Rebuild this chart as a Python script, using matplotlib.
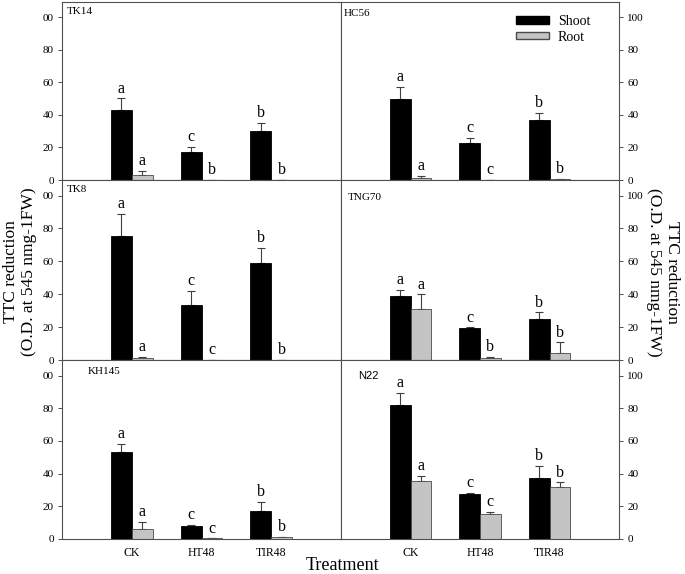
import matplotlib
matplotlib.use("Agg")
import matplotlib.pyplot as plt
from matplotlib.patches import Patch
import numpy as np

# ---------------- data ----------------
categories = ["CK", "HT48", "TIR48"]
panel_names = ["TK14", "HC56", "TK8", "TNG70", "KH145", "N22"]

shoot_TK14 = [43.3, 17.3, 30.2]; shoot_err_TK14 = [6.9, 3.3, 5.1]
root_TK14 = [3.0, 0.0, 0.0];     root_err_TK14 = [2.7, 0.0, 0.0]
shoot_HC56 = [50.0, 22.9, 37.1]; shoot_err_HC56 = [7.3, 3.1, 4.3]
root_HC56 = [1.4, 0.0, 0.5];     root_err_HC56 = [1.2, 0.0, 0.2]
shoot_TK8 = [75.7, 33.7, 59.2];  shoot_err_TK8 = [13.2, 8.3, 9.1]
root_TK8 = [1.5, 0.0, 0.0];      root_err_TK8 = [0.4, 0.0, 0.0]
shoot_TNG70 = [38.7, 19.2, 25.0]; shoot_err_TNG70 = [3.9, 0.6, 4.0]
root_TNG70 = [30.8, 1.0, 4.5];    root_err_TNG70 = [9.2, 1.0, 6.3]
shoot_KH145 = [53.5, 8.0, 16.9]; shoot_err_KH145 = [4.9, 0.6, 5.8]
root_KH145 = [6.1, 0.5, 1.2];    root_err_KH145 = [4.3, 0.0, 0.0]
shoot_N22 = [82.2, 27.3, 37.3];  shoot_err_N22 = [7.2, 1.1, 7.5]
root_N22 = [35.3, 15.3, 31.8];   root_err_N22 = [3.5, 1.2, 2.8]

letters_shoot = {"TK14": ["a", "c", "b"], "HC56": ["a", "c", "b"], "TK8": ["a", "c", "b"],
                 "TNG70": ["a", "c", "b"], "KH145": ["a", "c", "b"], "N22": ["a", "c", "b"]}
letters_root = {"TK14": ["a", "b", "b"], "HC56": ["a", "c", "b"], "TK8": ["a", "c", "b"],
                "TNG70": ["a", "b", "b"], "KH145": ["a", "c", "b"], "N22": ["a", "c", "b"]}

yticks = [0, 20, 40, 60, 80, 100]
yticklabels_left = ["0", "20", "40", "60", "80", "00"]
yticklabels_right = ["0", "20", "40", "60", "80", "100"]

data = {
    "TK14": (shoot_TK14, shoot_err_TK14, root_TK14, root_err_TK14),
    "HC56": (shoot_HC56, shoot_err_HC56, root_HC56, root_err_HC56),
    "TK8": (shoot_TK8, shoot_err_TK8, root_TK8, root_err_TK8),
    "TNG70": (shoot_TNG70, shoot_err_TNG70, root_TNG70, root_err_TNG70),
    "KH145": (shoot_KH145, shoot_err_KH145, root_KH145, root_err_KH145),
    "N22": (shoot_N22, shoot_err_N22, root_N22, root_err_N22),
}

# ---------------- style ----------------
SERIF = "Liberation Serif"
plt.rcParams["font.family"] = SERIF
frame_col = "#505050"

W, H = 685, 574
fig = plt.figure(figsize=(W / 100, H / 100), dpi=100)

x_left, x_mid, x_right = 62, 341, 619
row_edges = [2, 180, 360, 539]

label_pos = {  # panel label offsets (px from axes left, px from axes top)
    "TK14": (5, 10, SERIF), "HC56": (3, 11, SERIF), "TK8": (5, 9, SERIF),
    "TNG70": (7, 18, SERIF), "KH145": (26, 12, SERIF), "N22": (17, 16, "Liberation Sans"),
}

xpos = np.arange(1, len(categories) + 1)
bw = 0.3
ymax = 109.5

for i, name in enumerate(panel_names):
    row, col = divmod(i, 2)
    x0 = x_left if col == 0 else x_mid
    x1 = x_mid if col == 0 else x_right
    top, bot = row_edges[row], row_edges[row + 1]
    ax = fig.add_axes([x0 / W, 1 - bot / H, (x1 - x0) / W, (bot - top) / H])
    sh, she, rt, rte = data[name]

    ax.bar(xpos - bw / 2, sh, bw, color="black", edgecolor="black", linewidth=0.6, zorder=2)
    ax.bar(xpos + bw / 2, rt, bw, color="#c4c4c4", edgecolor="#4a4a4a", linewidth=0.6, zorder=2)
    ax.errorbar(xpos - bw / 2, sh, yerr=[np.zeros(3), she], fmt="none",
                ecolor="#404040", elinewidth=0.8, capsize=3, capthick=0.8, zorder=1)
    ax.errorbar(xpos + bw / 2, rt, yerr=[np.zeros(3), rte], fmt="none",
                ecolor="#404040", elinewidth=0.8, capsize=3, capthick=0.8, zorder=1)

    for j in range(3):
        ax.text(xpos[j] - bw / 2, sh[j] + she[j] + 1.0, letters_shoot[name][j],
                ha="center", va="bottom", fontsize=11.5, family=SERIF)
        ax.text(xpos[j] + bw / 2, rt[j] + rte[j] + 1.0, letters_root[name][j],
                ha="center", va="bottom", fontsize=11.5, family=SERIF)

    ax.set_xlim(0, 4)
    ax.set_ylim(0, ymax)
    ax.set_yticks(yticks)
    for s in ax.spines.values():
        s.set_color(frame_col)
        s.set_linewidth(0.8)

    if col == 0:
        ax.yaxis.tick_left()
        ax.set_yticklabels(yticklabels_left)
    else:
        ax.yaxis.tick_right()
        ax.set_yticklabels(yticklabels_right)
    ax.tick_params(axis="y", direction="out", length=3, width=0.7, color=frame_col,
                   labelsize=8, pad=3)

    if row == 2:
        ax.set_xticks(xpos)
        ax.set_xticklabels(categories)
        ax.tick_params(axis="x", length=0, labelsize=8.5, pad=6)
    else:
        ax.set_xticks([])

    lx, ly, lfam = label_pos[name]
    ax.text(lx / (x1 - x0), 1 - ly / (bot - top), name, transform=ax.transAxes,
            ha="left", va="center", fontsize=8, family=lfam)

    if name == "HC56":
        handles = [Patch(facecolor="black", edgecolor="black", label="Shoot"),
                   Patch(facecolor="#c4c4c4", edgecolor="#4a4a4a", label="Root")]
        ax.legend(handles=handles, loc="upper left", bbox_to_anchor=(0.6, 0.975),
                  frameon=False, fontsize=10, handlelength=2.4, handleheight=0.45,
                  labelspacing=0.2, handletextpad=0.6, borderaxespad=0.2)

ylabel = "TTC reduction\n(O.D. at 545 nmg-1FW)"
fig.text(20 / W, 1 - 272 / H, ylabel, rotation=90, ha="center", va="center",
         fontsize=12.5, family=SERIF, multialignment="center", linespacing=1.1)
fig.text(663 / W, 1 - 272 / H, ylabel, rotation=270, ha="center", va="center",
         fontsize=12.5, family=SERIF, multialignment="center", linespacing=1.1)
fig.text(343 / W, 1 - 566 / H, "Treatment", ha="center", va="center",
         fontsize=13, family=SERIF)

fig.savefig("out.png", dpi=100)
